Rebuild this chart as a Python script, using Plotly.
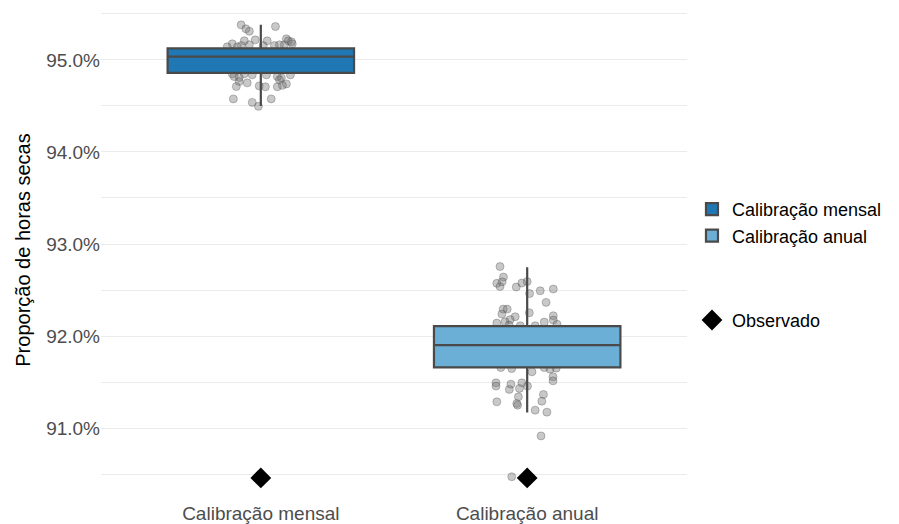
import plotly.graph_objects as go

# ---------------- data ----------------
categories = ["Calibração mensal", "Calibração anual"]
box_colors = ["#1F78B4", "#6BAED6"]

q1 = [94.859, 91.660]
median = [95.036, 91.902]
q3 = [95.125, 92.109]
lower_whisker = [94.50, 91.171]
upper_whisker = [95.38, 92.747]

observed = [90.46, 90.46]

# jittered simulation points: horizontal jitter offset and value (%)
mensal_dx = [-0.074, -0.056, -0.043, 0.055, -0.107, -0.062, -0.021, 0.024, 0.051, 0.096,
             0.103, 0.088, 0.118, -0.073, -0.043, 0.009, 0.070, -0.088, -0.107, -0.100,
             -0.081, -0.062, -0.032, 0.021, 0.062, 0.077, -0.081, -0.051, -0.092, -0.006,
             0.017, 0.062, 0.096, 0.081, -0.103, -0.032, -0.009, 0.039, 0.070, 0.115,
             -0.126, 0.111]
mensal_y = [95.380, 95.337, 95.310, 95.362, 95.174, 95.207, 95.217, 95.207, 95.155, 95.228,
            95.207, 95.163, 95.174, 95.155, 95.163, 95.155, 95.163, 95.141, 94.848, 94.818,
            94.808, 94.848, 94.837, 94.837, 94.818, 94.804, 94.764, 94.750, 94.710, 94.717,
            94.707, 94.707, 94.739, 94.723, 94.576, 94.538, 94.495, 94.576, 94.783, 95.196,
            95.141, 94.837]

anual_dx = [-0.102, -0.089, -0.114, -0.102, -0.094, -0.041, -0.020, 0.000, 0.009, 0.049,
            0.098, 0.071, -0.090, -0.075, -0.095, -0.045, -0.064, -0.083, -0.114, 0.008,
            0.098, 0.098, 0.064, 0.112, 0.030, -0.026, -0.068, -0.099, -0.058, 0.018,
            0.064, 0.086, 0.109, 0.097, 0.097, -0.117, -0.117, -0.061, -0.067, -0.020,
            0.001, -0.029, 0.061, -0.033, 0.055, -0.114, -0.039, -0.036, 0.030, 0.074,
            0.052, -0.058]
anual_y = [92.755, 92.641, 92.573, 92.538, 92.590, 92.533, 92.576, 92.592, 92.462, 92.492,
           92.511, 92.366, 92.293, 92.293, 92.239, 92.210, 92.179, 92.155, 92.141, 92.253,
           92.221, 92.174, 92.152, 92.130, 92.112, 92.112, 92.120, 91.658, 91.647, 91.612,
           91.658, 91.641, 91.652, 91.558, 91.514, 91.492, 91.457, 91.478, 91.421, 91.492,
           91.457, 91.432, 91.366, 91.340, 91.293, 91.286, 91.268, 91.250, 91.196, 91.174,
           90.916, 90.473]

y_ticks = [91, 92, 93, 94, 95]
y_ticklabels = ["91.0%", "92.0%", "93.0%", "94.0%", "95.0%"]
y_minor = [90.5, 91.5, 92.5, 93.5, 94.5, 95.5]

y_title = "Proporção de horas secas"
obs_name = "Observado"

# ---------------- figure ----------------
FONT = "Liberation Sans, Arial, sans-serif"
x_range = [-0.6, 1.6]
y_range = [90.22, 95.65]

fig = go.Figure()

jit = [(mensal_dx, mensal_y), (anual_dx, anual_y)]
for i, (dx, yy) in enumerate(jit):
    fig.add_trace(go.Scatter(
        x=[i + d for d in dx], y=yy, mode="markers",
        marker=dict(size=8, color="rgba(110,110,110,0.38)",
                    line=dict(color="rgba(80,80,80,0.35)", width=1)),
        showlegend=False, hoverinfo="skip", xaxis="x", yaxis="y"))

for i, cat in enumerate(categories):
    fig.add_trace(go.Box(
        x=[i], q1=[q1[i]], median=[median[i]], q3=[q3[i]],
        lowerfence=[lower_whisker[i]], upperfence=[upper_whisker[i]],
        name=cat, width=0.7, whiskerwidth=0,
        fillcolor=box_colors[i], line=dict(color="#4a4a4a", width=2.2),
        boxpoints=False, legendgroup="sim",
        xaxis="x2", yaxis="y2"))

fig.add_trace(go.Scatter(
    x=list(range(len(categories))), y=observed, mode="markers",
    marker=dict(symbol="diamond", size=16, color="black"),
    name=obs_name, legendgroup="obs", xaxis="x2", yaxis="y2"))

fig.update_layout(
    width=899, height=524,
    margin=dict(l=101, r=212, t=0, b=24),
    paper_bgcolor="white", plot_bgcolor="white",
    font=dict(family=FONT, color="black"),
    showlegend=True,
    boxmode="overlay",
    legend=dict(x=1.0085, xanchor="left", y=0.618, yanchor="top",
                traceorder="grouped", tracegroupgap=58,
                font=dict(size=18, color="black", family=FONT),
                bgcolor="rgba(0,0,0,0)"),
    xaxis=dict(range=x_range, tickvals=list(range(len(categories))),
               ticktext=categories, showgrid=False, zeroline=False,
               showline=False, ticks="",
               tickfont=dict(size=19, color="#4d4d4d", family=FONT)),
    yaxis=dict(range=y_range, tickvals=y_ticks, ticktext=y_ticklabels,
               showgrid=True, gridcolor="#ebebeb", gridwidth=1.2,
               zeroline=False, showline=False, ticks="",
               tickfont=dict(size=19, color="#4d4d4d", family=FONT),
               minor=dict(tickvals=y_minor, showgrid=True,
                          gridcolor="#ebebeb", gridwidth=1.2),
               title=dict(text=y_title, font=dict(size=20, color="black", family=FONT),
                          standoff=10)),
    xaxis2=dict(range=x_range, overlaying="x", visible=False),
    yaxis2=dict(range=y_range, overlaying="y", visible=False),
)

fig.write_html("out.html")
